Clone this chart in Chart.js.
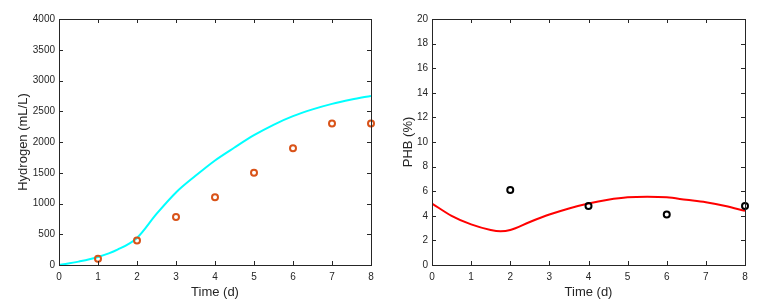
<!DOCTYPE html>
<html>
<head>
<meta charset="utf-8">
<script src="https://cdn.jsdelivr.net/npm/chart.js@4.4.0/dist/chart.umd.min.js"></script>
<style>
  html, body { margin: 0; padding: 0; background: #fff; }
  #wrap { position: relative; width: 767px; height: 308px; }
  .box { position: absolute; top: 0; height: 308px; }
</style>
</head>
<body>
<div id="wrap">
  <div class="box" style="left:0;width:380px"><canvas id="h2"></canvas></div>
  <div class="box" style="left:380px;width:387px"><canvas id="phb"></canvas></div>
</div>
<script>
// model curve, hydrogen (mL/L)
const h2ModelTime = [0, 0.5, 1, 1.5, 2, 2.5, 3, 3.5, 4, 4.5, 5, 5.5, 6, 6.5, 7, 7.5, 8];
const h2Model = [0, 55, 130, 250, 440, 830, 1180, 1450, 1700, 1910, 2110, 2280, 2420, 2530, 2620, 2690, 2750];
// measured hydrogen
const h2DataTime = [1, 2, 3, 4, 5, 6, 7, 8];
const h2Data = [100, 400, 780, 1100, 1500, 1900, 2300, 2300];

// model curve, PHB (%)
const phbModelTime = [0, 0.5, 1, 1.5, 1.75, 2, 2.5, 3, 3.5, 4, 4.5, 5, 5.5, 6, 6.5, 7, 7.5, 8];
const phbModel = [5.0, 4.0, 3.3, 2.85, 2.75, 2.85, 3.5, 4.1, 4.6, 5.0, 5.3, 5.5, 5.55, 5.5, 5.3, 5.1, 4.8, 4.4];
// measured PHB
const phbDataTime = [2, 4, 6, 8];
const phbData = [6.1, 4.8, 4.1, 4.8];

const axisColor = '#262626';

function pairs(xs, ys) {
    return xs.map((x, i) => ({ x: x, y: ys[i] }));
}

// frame round the plot area with inward ticks on all four sides
const framePlugin = {
    id: 'frame',
    afterDraw(chart) {
        const ctx = chart.ctx;
        const a = chart.chartArea;
        const xs = chart.scales.x;
        const ys = chart.scales.y;
        const len = 4;
        ctx.save();
        ctx.strokeStyle = axisColor;
        ctx.lineWidth = 1;
        ctx.strokeRect(Math.round(a.left) + 0.5, Math.round(a.top) + 0.5,
            Math.round(a.right - a.left), Math.round(a.bottom - a.top));
        ctx.beginPath();
        xs.ticks.forEach(t => {
            const px = Math.round(xs.getPixelForValue(t.value)) + 0.5;
            ctx.moveTo(px, a.bottom); ctx.lineTo(px, a.bottom - len);
            ctx.moveTo(px, a.top); ctx.lineTo(px, a.top + len);
        });
        ys.ticks.forEach(t => {
            const py = Math.round(ys.getPixelForValue(t.value)) + 0.5;
            ctx.moveTo(a.left, py); ctx.lineTo(a.left + len, py);
            ctx.moveTo(a.right, py); ctx.lineTo(a.right - len, py);
        });
        ctx.stroke();
        ctx.restore();
    }
};

function makeChart(id, cfg) {
    return new Chart(document.getElementById(id), {
        type: 'line',
        data: {
            datasets: [{
                data: pairs(cfg.modelTime, cfg.model),
                borderColor: cfg.lineColor,
                borderWidth: 2,
                pointRadius: 0,
                cubicInterpolationMode: 'monotone',
                order: 2
            }, {
                data: pairs(cfg.dataTime, cfg.data),
                showLine: false,
                clip: false,
                pointStyle: 'circle',
                pointRadius: 3,
                pointBorderWidth: 2,
                pointBorderColor: cfg.dotColor,
                pointBackgroundColor: 'rgba(0,0,0,0)',
                order: 1
            }]
        },
        options: {
            responsive: true,
            maintainAspectRatio: false,
            animation: false,
            layout: { padding: { top: 19, right: cfg.padRight, bottom: 0, left: 0 } },
            plugins: { legend: { display: false }, tooltip: { enabled: false } },
            scales: {
                x: {
                    type: 'linear',
                    min: 0, max: 8,
                    grid: { display: false, drawTicks: false, tickLength: 0 },
                    border: { display: false },
                    ticks: { stepSize: 1, color: axisColor, padding: 6, font: { family: 'Liberation Sans', size: 10 },
                             callback: v => String(v) },
                    title: { display: true, text: 'Time (d)', color: axisColor, padding: { top: 0, bottom: 8 },
                             font: { family: 'Liberation Sans', size: 13 } },
                    afterFit(s) { s.height = 43; }
                },
                y: {
                    min: 0, max: cfg.yMax,
                    grid: { display: false, drawTicks: false, tickLength: 0 },
                    border: { display: false },
                    ticks: { stepSize: cfg.yStep, color: axisColor, padding: 4, font: { family: 'Liberation Sans', size: 10 },
                             callback: v => String(v) },
                    title: { display: true, text: cfg.yTitle, color: axisColor, padding: { top: cfg.titlePad, bottom: 0 },
                             font: { family: 'Liberation Sans', size: 13 } },
                    afterFit(s) { s.width = cfg.yWidth; }
                }
            }
        },
        plugins: [framePlugin]
    });
}

makeChart('h2', {
    modelTime: h2ModelTime, model: h2Model,
    dataTime: h2DataTime, data: h2Data,
    lineColor: '#00ffff', dotColor: '#d95319',
    yMax: 4000, yStep: 500, yTitle: 'Hydrogen (mL/L)',
    yWidth: 59, padRight: 9, titlePad: 16
});

makeChart('phb', {
    modelTime: phbModelTime, model: phbModel,
    dataTime: phbDataTime, data: phbData,
    lineColor: '#ff0000', dotColor: '#000000',
    yMax: 20, yStep: 2, yTitle: 'PHB (%)',
    yWidth: 52, padRight: 22, titlePad: 21
});
</script>
</body>
</html>
